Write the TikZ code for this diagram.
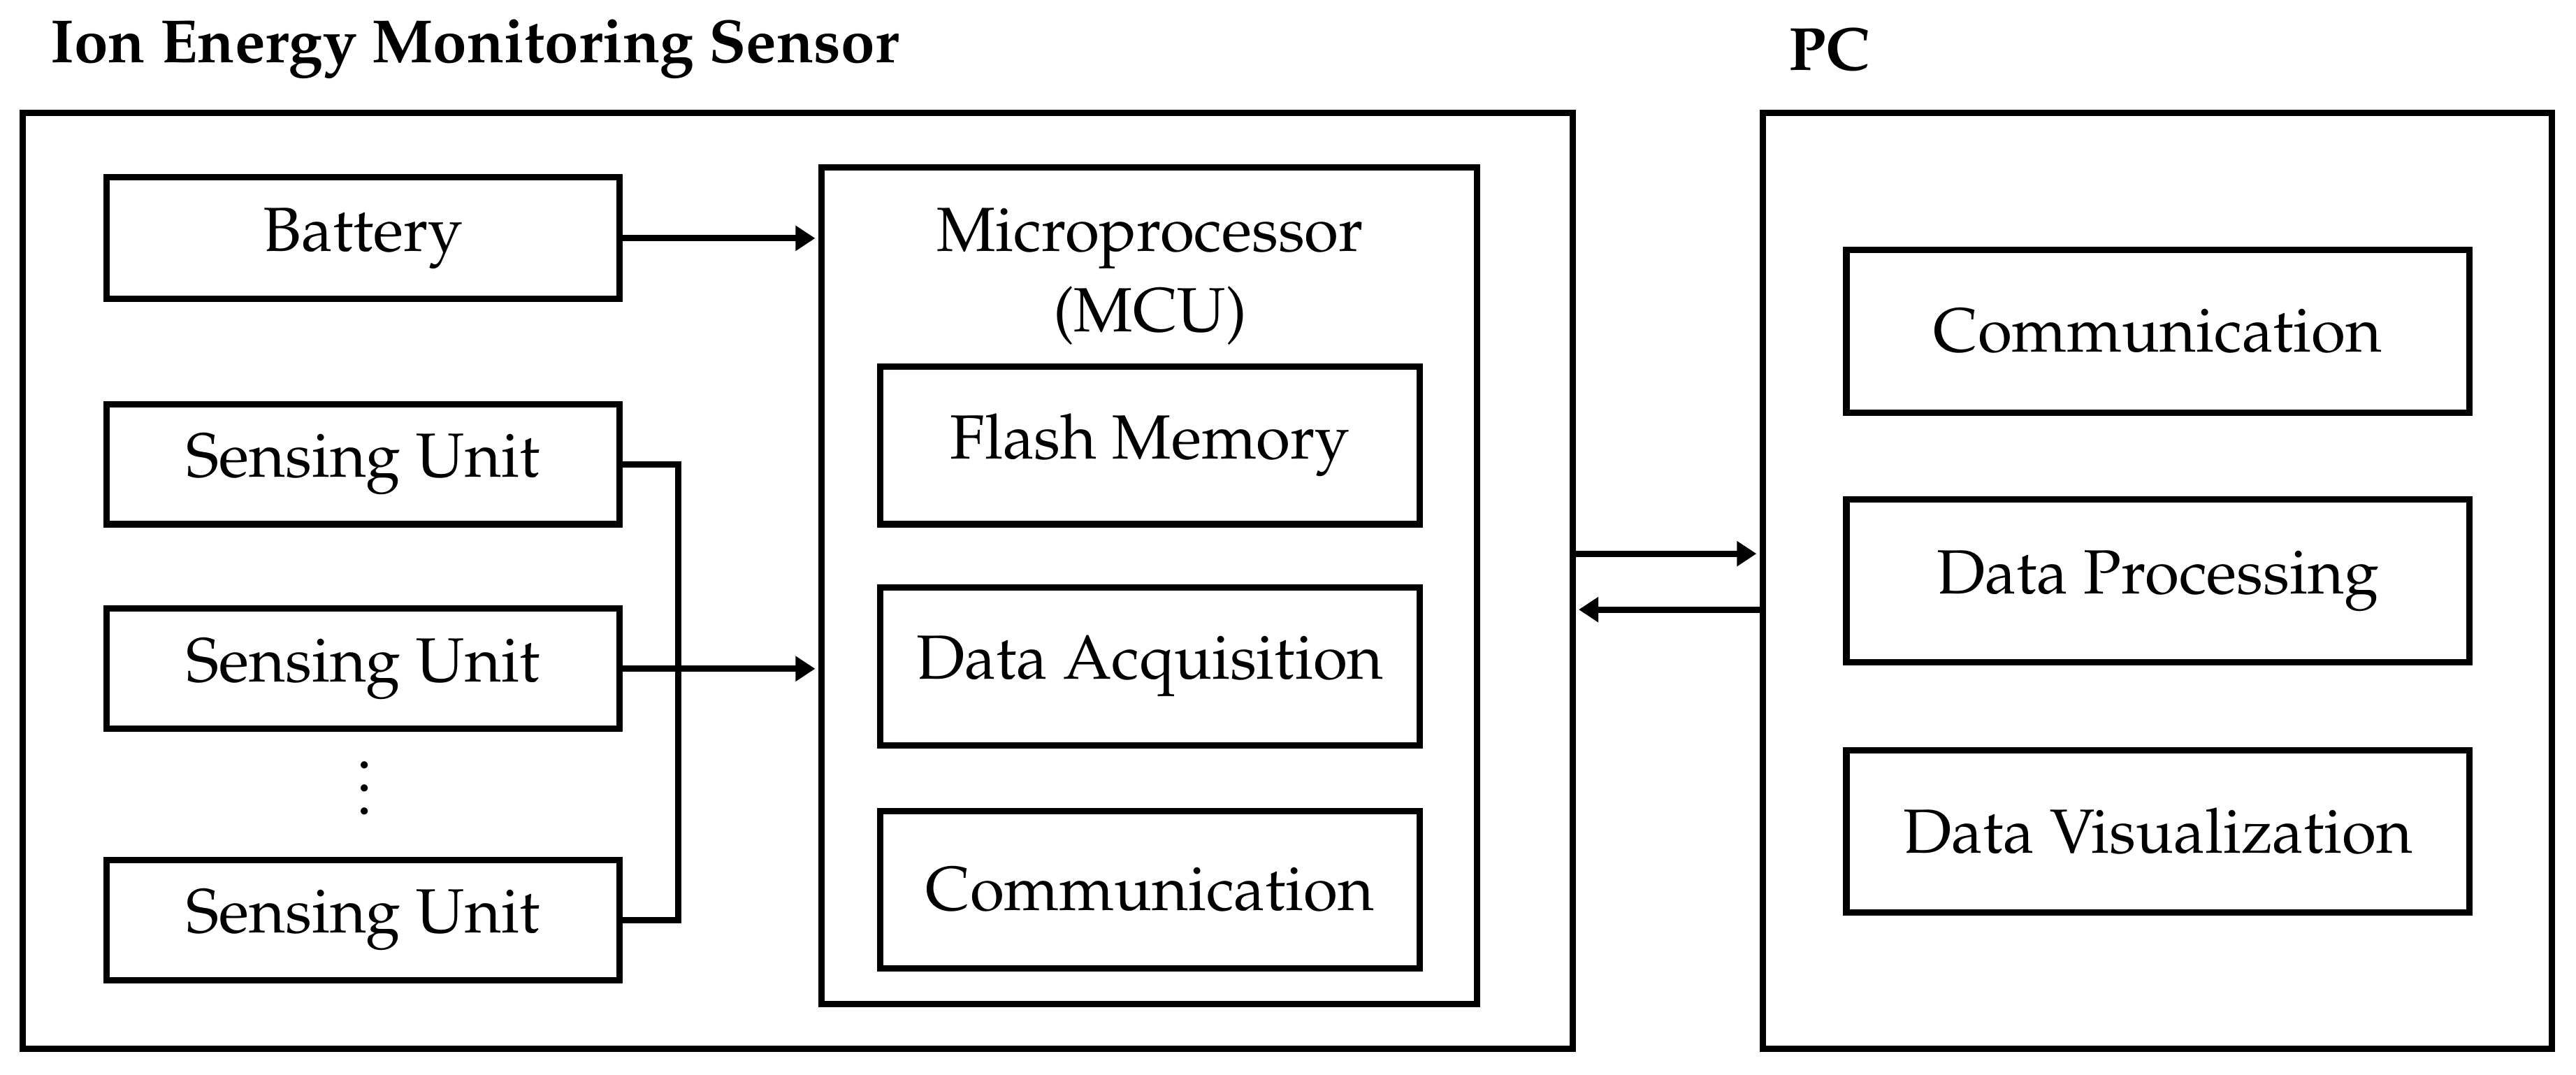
\documentclass[tikz,border=0pt]{standalone}
\usepackage[T1]{fontenc}
\usepackage{mathpazo}
\usetikzlibrary{arrows.meta}

\tikzset{
  blk/.style={draw, line width=1.1pt, inner sep=0pt, align=center,
    font=\fontsize{10.8}{14}\selectfont},
  link/.style={line width=1.1pt, -{Triangle[length=3.4pt,width=4.2pt]}, shorten >=0.5pt},
  hdr/.style={anchor=west, inner sep=0pt, font=\fontsize{10.55}{13}\selectfont\bfseries}
}

\begin{document}
\begin{tikzpicture}[x=0.01cm, y=-0.01cm]
  \useasboundingbox (0,0) rectangle (1568,654);
  % headings
  \node[hdr] (senshdr) at (30,30) {Ion Energy Monitoring Sensor};
  \node[hdr] (pchdr) at (1088,30) {PC};
  % sensor frame
  \node[blk, minimum width=9.43cm, minimum height=5.69cm] (sensor) at (485.5,353.5) {};
  % PC frame
  \node[blk, minimum width=4.80cm, minimum height=5.69cm] (pc) at (1313,353.5) {};
  % Battery
  \node[blk, minimum width=3.12cm, minimum height=0.74cm] (bat) at (221,145) {Battery};
  % Sensing units
  \node[blk, minimum width=3.12cm, minimum height=0.73cm] (su1) at (221,282.5) {Sensing Unit};
  \node[blk, minimum width=3.12cm, minimum height=0.73cm] (su2) at (221,407) {Sensing Unit};
  \node[font=\fontsize{10.8}{13}\selectfont] (dots) at (222,469) {$\vdots$};
  \node[blk, minimum width=3.12cm, minimum height=0.73cm] (su3) at (221,560) {Sensing Unit};
  % MCU
  \node[blk, minimum width=3.99cm, minimum height=5.09cm] (mcu) at (699.5,356.5) {};
  \node[font=\fontsize{10.8}{14}\selectfont, align=center, anchor=north] (mcutxt) at (700,114) {Microprocessor\\(MCU)};
  \node[blk, minimum width=3.28cm, minimum height=0.96cm] (flash) at (700,271) {Flash Memory};
  \node[blk, minimum width=3.28cm, minimum height=0.96cm] (acq) at (700,405.5) {Data Acquisition};
  \node[blk, minimum width=3.28cm, minimum height=0.96cm] (mcucom) at (700,541.5) {Communication};
  % PC blocks
  \node[blk, minimum width=3.79cm, minimum height=0.99cm] (pccom) at (1313.5,201.5) {Communication};
  \node[blk, minimum width=3.79cm, minimum height=0.99cm] (proc) at (1313.5,353.5) {Data Processing};
  \node[blk, minimum width=3.79cm, minimum height=0.99cm] (vis) at (1313.5,506) {Data Visualization};
  % connectors
  \coordinate (bus) at (413,0);
  \draw[link] (bat.east) -- (bat.east -| mcu.west);
  \draw[line width=1.1pt] (su1.east) -- (su1.east -| bus) -- (su3.east -| bus) -- (su3.east);
  \draw[link] (su2.east) -- (su2.east -| mcu.west);
  \draw[link] ([yshift=0.165cm]sensor.east) -- ([yshift=0.165cm]pc.west);
  \draw[link] ([yshift=-0.175cm]pc.west) -- ([yshift=-0.175cm]sensor.east);
\end{tikzpicture}
\end{document}
